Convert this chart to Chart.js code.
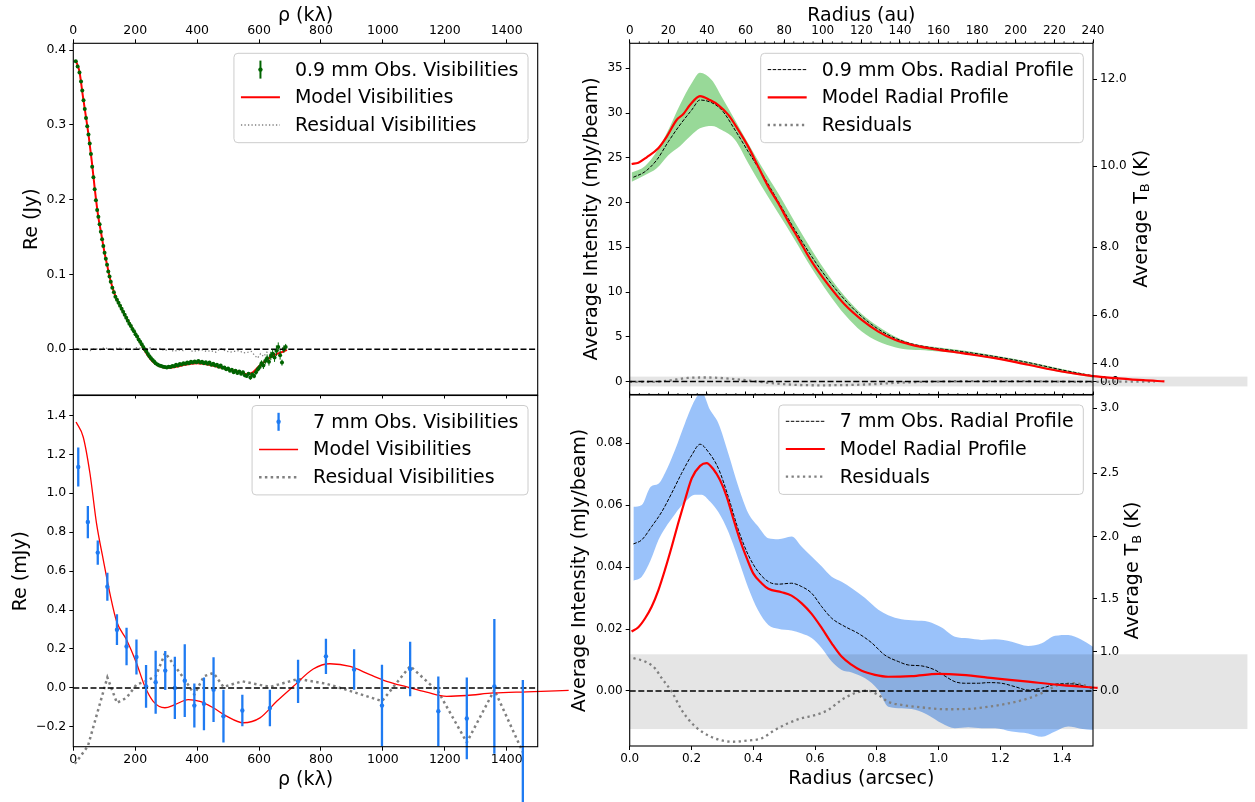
<!DOCTYPE html>
<html><head><meta charset="utf-8">
<script src="https://cdn.jsdelivr.net/npm/chart.js@4.4.1/dist/chart.umd.min.js"></script>
<style>
html,body{margin:0;padding:0;background:#fff;width:1255px;height:802px;overflow:hidden;}
canvas{position:absolute;left:0;top:0;}
</style></head><body>
<canvas id="tl" width="1255" height="802"></canvas>
<canvas id="bl" width="1255" height="802"></canvas>
<canvas id="tr" width="1255" height="802"></canvas>
<canvas id="br" width="1255" height="802"></canvas>
<script>
// ================= DATA =================
// --- Panel top-left: 0.9 mm visibilities (rho in k-lambda, Re in Jy)
const vis09X = [8,14,20,25,29,33,37,41,45,49,53,57,61,65,69,73,77,81,85,89,93,97,101,105,109,113,117,121,126,131,
136,141,146,151,156,161,166,171,176,181,186,191,196,201,206,211,216,221,226,231,236,241,246,251,256,261,266,272,278,284,
290,296,302,308,314,320,326,332,338,344,350,356,362,368,374,380,386,392,398,404,410,416,422,428,434,440,446,452,458,464,
470,476,482,488,494,500,506,512,518,524,530,536,542,548,554,560,566,572,578,584,590,596,602,608,614,620,626,632,638,644,
650,656,662,668,674,680,686];
const vis09Y = [0.385,0.378,0.370,0.358,0.346,0.333,0.321,0.309,0.298,0.287,
0.275,0.261,0.244,0.230,0.214,0.199,0.186,0.177,0.167,0.157,
0.147,0.138,0.129,0.121,0.113,0.104,0.097,0.090,0.082,0.076,
0.070,0.066,0.062,0.058,0.054,0.050,0.046,0.042,0.038,0.034,
0.031,0.027,0.024,0.020,0.017,0.013,0.010,0.0065,0.003,0.000,
-0.003,-0.0065,-0.0095,-0.012,-0.0145,-0.0165,-0.019,-0.0205,-0.022,-0.0225,
-0.0235,-0.024,-0.0245,-0.0235,-0.024,-0.0225,-0.023,-0.021,-0.022,-0.020,
-0.0205,-0.019,-0.0195,-0.018,-0.019,-0.017,-0.018,-0.0165,-0.0175,-0.016,
-0.018,-0.017,-0.019,-0.0175,-0.0195,-0.018,-0.021,-0.0195,-0.022,-0.021,
-0.0235,-0.022,-0.025,-0.0245,-0.027,-0.026,-0.029,-0.0275,-0.031,-0.029,
-0.032,-0.030,-0.033,-0.031,-0.035,-0.036,-0.033,-0.038,-0.034,-0.036,
-0.031,-0.027,-0.024,-0.019,-0.022,-0.016,-0.012,-0.017,-0.009,-0.006,
-0.011,-0.002,0.003,-0.008,-0.018,0.000,0.003];
const vis09Err = [0.0008,0.0008,0.0008,0.0008,0.0008,0.0008,0.0008,0.0008,0.0008,0.0008,
0.0008,0.0008,0.0008,0.0008,0.0008,0.0008,0.0008,0.0008,0.0008,0.0008,
0.0008,0.0008,0.0008,0.0008,0.0008,0.0008,0.0008,0.0008,0.0008,0.0008,
0.0008,0.0008,0.0008,0.0008,0.0008,0.0008,0.0008,0.0008,0.0008,0.0008,
0.0008,0.0008,0.0008,0.0008,0.0008,0.0008,0.0008,0.0008,0.0008,0.0008,
0.0008,0.0008,0.0008,0.0008,0.0008,0.0008,0.0008,0.0008,0.0008,0.0008,
0.0008,0.0008,0.0008,0.0008,0.0008,0.0008,0.0008,0.0008,0.0008,0.0008,
0.0008,0.0008,0.0008,0.0008,0.0008,0.0008,0.0008,0.0008,0.0008,0.0008,
0.0008,0.0008,0.0008,0.0008,0.0008,0.0008,0.0008,0.0008,0.0008,0.0008,
0.0010,0.0010,0.0012,0.0012,0.0015,0.0015,0.0015,0.0015,0.0018,0.0018,
0.0020,0.0020,0.0020,0.0022,0.0025,0.0025,0.0025,0.0030,0.0030,0.0030,
0.0035,0.0035,0.0040,0.0040,0.0045,0.0045,0.0050,0.0050,0.0055,0.0055,
0.0060,0.0070,0.0060,0.0060,0.0040,0.0050,0.0040];
const model09VisX = [8,20,30,40,50,60,70,80,90,100,110,120,130,140,150,160,170,180,190,200,210,220,230,240,250,260,270,280,
300,320,340,360,380,400,420,440,460,480,500,520,540,560,580,600,620,640,660,680,690];
const model09VisY = [0.386,0.371,0.341,0.313,0.284,0.250,0.212,0.179,0.155,0.131,0.111,0.092,0.078,0.067,0.059,0.051,0.043,0.036,0.028,0.021,
0.0135,0.006,-0.0015,-0.008,-0.0135,-0.018,-0.021,-0.023,-0.025,-0.0245,-0.023,-0.021,-0.0195,-0.019,-0.0195,-0.021,-0.023,-0.025,-0.027,-0.029,
-0.031,-0.0335,-0.031,-0.023,-0.016,-0.010,-0.006,-0.003,-0.001];
const resid09VisX = [10,25,40,55,70,85,100,115,130,145,160,175,190,205,220,235,250,265,280,295,310,325,340,355,370,385,400,415,430,445,
460,475,490,505,520,535,550,565,575,585,595,605,615,625,635,645,655,665,675,685];
const resid09VisY = [0.001,-0.001,0.000,-0.002,0.001,-0.001,0.002,0.000,-0.001,0.002,0.000,0.001,-0.001,0.002,0.001,0.000,0.002,-0.001,0.001,-0.002,
0.000,-0.003,-0.001,-0.002,0.001,-0.003,-0.002,-0.001,-0.003,-0.002,-0.004,0.001,-0.002,-0.004,-0.003,-0.002,-0.005,-0.004,-0.003,-0.008,
-0.012,-0.006,-0.010,-0.004,-0.007,-0.013,-0.005,-0.002,0.002,0.000];

// --- Panel bottom-left: 7 mm visibilities (rho in k-lambda, Re in mJy)
const vis7X = [16,47,79,110,141,172,204,235,266,297,328,360,391,422,453,485,546,635,726,816,907,997,1088,1179,1271,1360,1452];
const vis7Y = [1.135,0.852,0.695,0.52,0.299,0.213,0.159,0.008,0.029,0.089,0.0,0.037,-0.091,-0.082,-0.009,-0.145,-0.116,-0.103,0.034,0.162,
0.094,-0.091,0.097,-0.12,-0.157,0.008,-0.35];
const vis7Err = [0.100,0.083,0.062,0.072,0.079,0.096,0.09,0.11,0.162,0.1,0.16,0.187,0.113,0.135,0.166,0.136,0.081,0.094,0.111,0.091,
0.104,0.21,0.14,0.178,0.21,0.346,0.39];
const model7VisX = [9,32,54,75,97,118,140,172,204,231,258,296,328,371,409,452,495,549,603,657,711,775,829,894,958,1012,1077,1141,1206,1270,1357,1464,1600];
const model7VisY = [1.366,1.289,1.10,0.845,0.657,0.487,0.341,0.247,0.128,0.008,-0.069,-0.102,-0.086,-0.06,-0.069,-0.102,-0.145,-0.179,-0.154,-0.069,
0.008,0.097,0.124,0.11,0.068,0.034,0.005,-0.022,-0.043,-0.039,-0.026,-0.02,-0.013];
const resid7VisX = [5,47,79,110,141,172,204,235,266,297,328,360,391,422,453,485,546,635,726,816,907,997,1088,1179,1271,1360,1452];
const resid7VisY = [-0.39,-0.30,-0.12,0.054,-0.077,-0.051,0.017,0.035,0.06,0.18,0.112,0.043,-0.034,0.06,0.077,0.005,0.034,0.005,0.046,0.022,
-0.022,-0.068,0.112,-0.02,-0.28,-0.01,-0.33];

// --- Panel top-right: 0.9 mm radial profile (radius in au, intensity in mJy/beam)
const prof09X = [1.9,7.9,14,20,26,32.1,36.4,42.5,47.7,54.6,61.4,68.4,77,85.6,94.3,102.9,111.5,120.2,128.8,137.4,146.1,154.7,172,189.2,206.5,223.8,240];
const prof09Y = [22.83,23.45,24.76,26.8,28.67,30.34,31.46,31.16,30.34,28.1,25.69,23.27,20.1,16.94,13.96,11.36,9.12,7.26,5.85,4.85,4.21,3.84,3.35,2.79,2.12,1.30,0.63];
const model09ProfX = [1,4.5,8.8,14.8,19.2,24.3,27.8,31.2,36.4,41.6,45.9,51.1,56.3,61.4,66.6,71.8,77,82.2,87.3,94.3,102.9,111.5,120.2,128.8,137.4,146.1,154.7,172,189.2,206.5,223.8,240,253,266,277];
const model09ProfY = [24.31,24.46,25.06,26.07,27.37,29.23,29.9,30.9,31.9,31.46,30.9,29.8,28.1,26.25,24.0,21.78,19.92,17.87,16.0,13.4,10.8,8.57,6.89,5.58,4.66,4.10,3.73,3.17,2.61,1.87,1.12,0.6,0.36,0.15,0.02];
const band09X = [1,8,14,20,26,32,36.4,42.5,47.7,54.6,61.4,68.4,77,85.6,94.3,102.9,111.5,120.2,128.8,137.4,146,155,172,189,206,224,240];
const band09Hi = [23.35,24.1,25.7,28.1,30.9,33.3,34.5,33.7,31.8,29.2,26.6,24.0,21.0,17.8,14.7,11.9,9.5,7.56,6.14,5.03,4.29,3.95,3.5,2.9,2.25,1.4,0.7];
const band09Lo = [22.34,23.08,23.83,25.3,26.3,27.55,28.3,28.56,28.1,27.0,24.4,21.8,18.8,15.8,12.66,9.87,7.45,5.58,4.47,3.84,3.54,3.45,3.1,2.55,1.85,1.0,0.45];
const resid09ProfX = [0,10,20,30,40,50,60,70,80,90,100,110,120,130,140,150,160,180,200,220,240,255,272];
const resid09ProfY = [-0.05,-0.05,0.1,0.4,0.45,0.35,0.15,-0.1,-0.3,-0.4,-0.42,-0.4,-0.35,-0.25,-0.12,-0.05,0.0,0.05,0.05,0.0,-0.05,0.0,0.0];
const rms09Band = [-0.55, 0.55];
const rms09BandX = [0, 320];
const tb09TickPos = [33.8, 24.08, 15.0, 7.41, 1.98, 0];
const tb09TickLabels = ['12.0','10.0','8.0','6.0','4.0','0.0'];

// --- Panel bottom-right: 7 mm radial profile (radius in arcsec, intensity in mJy/beam)
const prof7X = [0.012,0.039,0.071,0.104,0.136,0.168,0.201,0.228,0.254,0.287,0.319,0.352,0.384,0.416,0.449,0.481,0.524,0.557,0.589,0.622,
0.654,0.697,0.74,0.783,0.826,0.87,0.902,0.945,0.988,1.021,1.053,1.085,1.129,1.161,1.204,1.247,1.29,1.334,1.388,1.431,1.496];
const prof7Y = [0.0475,0.0488,0.0531,0.0579,0.0639,0.0703,0.0762,0.0797,0.0773,0.0719,0.0628,0.052,0.0439,0.0385,0.0353,0.0345,0.0348,0.0337,0.0316,0.0272,
0.0235,0.0208,0.0186,0.0156,0.0116,0.0095,0.0084,0.0081,0.0068,0.0048,0.003,0.0025,0.0025,0.0027,0.0025,0.0014,0.0003,0.0009,0.0023,0.0023,0.0009];
const model7ProfX = [0.006,0.028,0.05,0.071,0.093,0.114,0.136,0.157,0.179,0.201,0.228,0.249,0.271,0.292,0.314,0.335,0.357,0.379,0.4,0.427,
0.449,0.492,0.524,0.557,0.589,0.622,0.654,0.686,0.719,0.751,0.794,0.837,0.913,0.999,1.075,1.183,1.29,1.399,1.515];
const model7ProfY = [0.0192,0.0206,0.0235,0.0272,0.0326,0.0391,0.0466,0.0542,0.0617,0.0687,0.0727,0.0736,0.0716,0.0682,0.0628,0.0558,0.0488,0.0429,0.038,0.0348,
0.033,0.0319,0.0308,0.0283,0.0249,0.0203,0.0154,0.0111,0.0084,0.0065,0.0052,0.0046,0.0048,0.0055,0.0052,0.0041,0.003,0.0019,0.001];
const band7X = [0.012,0.039,0.068,0.093,0.114,0.147,0.179,0.211,0.233,0.26,0.287,0.319,0.352,0.384,0.416,0.449,0.481,0.524,0.557,0.589,
0.622,0.654,0.686,0.719,0.762,0.805,0.837,0.88,0.924,0.967,1.01,1.053,1.096,1.139,1.183,1.237,1.29,1.334,1.377,1.42,1.46,1.5];
const band7Hi = [0.0595,0.0601,0.066,0.0669,0.0703,0.0779,0.0865,0.094,0.0965,0.0908,0.0865,0.0768,0.066,0.0574,0.0531,0.0493,0.049,0.0499,0.0466,0.0434,
0.0402,0.0369,0.0353,0.0332,0.030,0.0262,0.0245,0.0232,0.0228,0.0224,0.0205,0.0175,0.017,0.0165,0.0167,0.0159,0.0145,0.0154,0.0178,0.0181,0.0167,0.0143];
const band7Lo = [0.0356,0.0369,0.0423,0.0488,0.0525,0.0572,0.061,0.0634,0.0634,0.0612,0.0578,0.0515,0.0425,0.0333,0.026,0.0213,0.0201,0.0195,0.0186,0.0171,
0.0138,0.0095,0.0068,0.006,0.0041,0.0003,-0.0051,-0.0056,-0.0061,-0.0078,-0.0104,-0.012,-0.0117,-0.012,-0.012,-0.0131,-0.0137,-0.0148,-0.0131,-0.0115,-0.0122,-0.0126];
const resid7ProfX = [0.012,0.05,0.082,0.104,0.136,0.168,0.201,0.233,0.276,0.33,0.384,0.427,0.47,0.513,0.557,0.6,0.643,0.686,0.729,0.772,
0.805,0.837,0.88,0.945,1.021,1.096,1.161,1.226,1.29,1.334,1.388,1.442,1.5];
const resid7ProfY = [0.0106,0.0095,0.0073,0.0041,-0.0002,-0.0061,-0.0104,-0.0131,-0.0153,-0.0164,-0.016,-0.0153,-0.0126,-0.0104,-0.0088,-0.0078,-0.0061,-0.0029,-0.0007,0.0001,
-0.0013,-0.0035,-0.0045,-0.0053,-0.0059,-0.0058,-0.0051,-0.004,-0.0024,-0.0007,0.0019,0.0025,0.0009];
const rms7Band = [-0.0123, 0.01185];
const rms7BandX = [0, 2.0];
const tb7TickPos = [0.0913, 0.0703, 0.0498, 0.0299, 0.0127, 0];
const tb7TickLabels = ['3.0','2.5','2.0','1.5','1.0','0.0'];

// zero reference lines
const zeroVisX = [0, 1500];
const zeroAuX = [0, 240];
const zeroArcX = [0, 1.5];
const zeroY = [0, 0];

// ================= HELPERS =================
const F = "'DejaVu Sans', 'Liberation Sans', sans-serif";
Chart.defaults.font.family = F;
Chart.defaults.color = '#000';
Chart.defaults.animation = false;

function pts(xs, ys) { return xs.map((x, i) => ({x: x, y: ys[i]})); }
function fitW(w) { return s => { s.width = w; }; }
function fitH(h) { return s => { s.height = h; }; }
function tickGrid(len) { return {display: true, drawOnChartArea: false, drawTicks: true, tickLength: len, tickColor: '#000', tickWidth: 1, color: '#000'}; }
function titleOpt(text) { return text ? {display: true, text: text, font: {size: 19, lineHeight: 1}, padding: 0, color: '#000'} : {display: false}; }

function xAxis(pos, lo, hi, step, o) {
  return {
    type: 'linear', axis: 'x', position: pos, bounds: 'data',
    afterDataLimits: s => { s.min = lo; s.max = hi; },
    afterBuildTicks: s => { s.ticks = s.ticks.filter(t => Math.abs(t.value / step - Math.round(t.value / step)) < 1e-6 && t.value >= lo - 1e-9 && t.value <= hi + 1e-9); },
    ticks: {stepSize: step, autoSkip: false, maxRotation: 0, minRotation: 0, display: !!o.labels, padding: o.pad, font: {size: o.fs}, callback: o.cb},
    grid: tickGrid(o.tl),
    border: {display: false},
    title: titleOpt(o.title),
    afterFit: fitH(o.h)
  };
}
function yAxis(pos, lo, hi, step, o) {
  const ax = {
    type: 'linear', axis: 'y', position: pos, min: lo, max: hi,
    ticks: {stepSize: step, includeBounds: false, autoSkip: false, padding: 3, font: {size: o.fs}, callback: o.cb},
    grid: tickGrid(4),
    border: {display: false},
    title: titleOpt(o.title),
    afterFit: fitW(o.w)
  };
  if (o.tickPos) {
    ax.afterBuildTicks = s => { s.ticks = o.tickPos.map(v => ({value: v})); };
    ax.ticks = {autoSkip: false, padding: 3, font: {size: o.fs}, callback: (v, i) => o.tickLabels[i]};
  }
  return ax;
}

const framePlugin = {
  id: 'frame',
  afterDraw(c) {
    const a = c.chartArea, ctx = c.ctx;
    ctx.save(); ctx.strokeStyle = '#000'; ctx.lineWidth = 1.1;
    ctx.strokeRect(a.left, a.top, a.right - a.left, a.bottom - a.top);
    ctx.restore();
  }
};
function bandPlugin(afterIndex, bx, by) {
  return {
    id: 'hband',
    afterDatasetDraw(c, args) {
      if (args.index !== afterIndex) return;
      const xs = c.scales.x, ys = c.scales.y, ctx = c.ctx;
      const x0 = xs.getPixelForValue(bx[0]), x1 = xs.getPixelForValue(bx[1]);
      const y0 = ys.getPixelForValue(by[1]), y1 = ys.getPixelForValue(by[0]);
      ctx.save(); ctx.fillStyle = 'rgba(0,0,0,0.1)'; ctx.fillRect(x0, y0, x1 - x0, y1 - y0); ctx.restore();
    }
  };
}
function errPlugin(dsIndex, errs, lw) {
  return {
    id: 'errbars',
    afterDatasetsDraw(c) {
      const ds = c.data.datasets[dsIndex], xs = c.scales.x, ys = c.scales.y, ctx = c.ctx;
      ctx.save(); ctx.strokeStyle = ds.pointBackgroundColor; ctx.lineWidth = lw; ctx.beginPath();
      ds.data.forEach((p, i) => {
        const x = xs.getPixelForValue(p.x);
        ctx.moveTo(x, ys.getPixelForValue(p.y + errs[i]));
        ctx.lineTo(x, ys.getPixelForValue(p.y - errs[i]));
      });
      ctx.stroke(); ctx.restore();
    }
  };
}
function minorPlugin(specs) {
  return {
    id: 'minor',
    afterDraw(c) {
      const ctx = c.ctx, a = c.chartArea;
      ctx.save(); ctx.strokeStyle = '#000'; ctx.lineWidth = 0.8; ctx.beginPath();
      specs.forEach(s => {
        const sc = c.scales[s.scale];
        for (let k = 0; s.from + k * s.step <= s.to + 1e-9; k++) {
          const x = sc.getPixelForValue(s.from + k * s.step);
          const y = s.side === 'top' ? a.top : a.bottom;
          ctx.moveTo(x, y); ctx.lineTo(x, s.side === 'top' ? y - s.len : y + s.len);
        }
      });
      ctx.stroke(); ctx.restore();
    }
  };
}
function tbTitlePlugin(xc) {
  return {
    id: 'tbTitle',
    afterDraw(c) {
      const ctx = c.ctx, a = c.chartArea, yc = (a.top + a.bottom) / 2;
      ctx.save(); ctx.translate(xc, yc); ctx.rotate(-Math.PI / 2);
      const big = '19px ' + F, small = '13px ' + F;
      ctx.font = big; const w1 = ctx.measureText('Average T').width, w3 = ctx.measureText(' (K)').width;
      ctx.font = small; const w2 = ctx.measureText('B').width;
      let x = -(w1 + w2 + w3) / 2;
      ctx.fillStyle = '#000'; ctx.textBaseline = 'middle'; ctx.textAlign = 'left';
      ctx.font = big; ctx.fillText('Average T', x, 0); x += w1;
      ctx.font = small; ctx.fillText('B', x, 4); x += w2;
      ctx.font = big; ctx.fillText(' (K)', x, 0);
      ctx.restore();
    }
  };
}
function legendPlugin(items) {
  return {
    id: 'mplLegend',
    afterDraw(c) {
      const ctx = c.ctx, a = c.chartArea;
      ctx.save();
      ctx.font = '19px ' + F;
      const texts = items.map(it => c.data.datasets[it.ds].label);
      const tw = Math.max.apply(null, texts.map(t => ctx.measureText(t).width));
      const w = 61 + tw + 9.5, h = 89.4;
      const x0 = a.right - 9.7 - w, y0 = a.top + 10, r = 4;
      ctx.beginPath();
      ctx.moveTo(x0 + r, y0); ctx.lineTo(x0 + w - r, y0); ctx.arcTo(x0 + w, y0, x0 + w, y0 + r, r);
      ctx.lineTo(x0 + w, y0 + h - r); ctx.arcTo(x0 + w, y0 + h, x0 + w - r, y0 + h, r);
      ctx.lineTo(x0 + r, y0 + h); ctx.arcTo(x0, y0 + h, x0, y0 + h - r, r);
      ctx.lineTo(x0, y0 + r); ctx.arcTo(x0, y0, x0 + r, y0, r); ctx.closePath();
      ctx.fillStyle = 'rgba(255,255,255,0.8)'; ctx.fill();
      ctx.strokeStyle = '#cccccc'; ctx.lineWidth = 1; ctx.stroke();
      items.forEach((it, i) => {
        const ds = c.data.datasets[it.ds], cy = y0 + 16.3 + i * 27.7;
        if (it.kind === 'err') {
          const col = ds.pointBackgroundColor;
          ctx.setLineDash([]); ctx.strokeStyle = col; ctx.lineWidth = it.lw;
          ctx.beginPath(); ctx.moveTo(x0 + 26.5, cy - 9); ctx.lineTo(x0 + 26.5, cy + 9); ctx.stroke();
          ctx.beginPath(); ctx.arc(x0 + 26.5, cy, 2.2, 0, Math.PI * 2); ctx.fillStyle = col; ctx.fill();
        } else {
          ctx.strokeStyle = ds.borderColor; ctx.lineWidth = ds.borderWidth; ctx.setLineDash(ds.borderDash || []);
          ctx.beginPath(); ctx.moveTo(x0 + 7, cy); ctx.lineTo(x0 + 46, cy); ctx.stroke(); ctx.setLineDash([]);
        }
        ctx.fillStyle = '#000'; ctx.textBaseline = 'middle'; ctx.textAlign = 'left';
        ctx.fillText(texts[i], x0 + 61, cy + 1);
      });
      ctx.restore();
    }
  };
}
const baseOpts = (padding) => ({
  responsive: false, maintainAspectRatio: false, animation: false, events: [],
  layout: {padding: padding},
  plugins: {legend: {display: false}, tooltip: {enabled: false}, title: {display: false}}
});
const intCb = v => String(Math.round(v));
const dash0 = [6, 2.6];

// ================= TOP-LEFT =================
{
  const o = baseOpts({left: 22.1, top: 6.8, right: 717.3, bottom: 403});
  o.scales = {
    x: xAxis('bottom', 0, 1500, 200, {labels: false, tl: 3.5, h: 4, fs: 12.5, pad: 2}),
    xt: xAxis('top', 0, 1500, 200, {labels: true, tl: 4, h: 36.5, fs: 12.5, pad: 1, cb: intCb, title: 'ρ (kλ)'}),
    y: yAxis('left', -0.0613, 0.409, 0.1, {w: 51.2, fs: 12.5, cb: v => v.toFixed(1), title: 'Re (Jy)'})
  };
  new Chart(document.getElementById('tl'), {
    type: 'line',
    data: {datasets: [
      {label: '0.9 mm Obs. Visibilities', data: pts(vis09X, vis09Y), showLine: false, pointRadius: 2, pointBorderWidth: 0,
       pointBackgroundColor: '#006400', borderColor: '#006400', xAxisID: 'x', yAxisID: 'y', order: 1},
      {label: 'Model Visibilities', data: pts(model09VisX, model09VisY), borderColor: '#ff0000', borderWidth: 2, pointRadius: 0,
       cubicInterpolationMode: 'monotone', xAxisID: 'x', yAxisID: 'y', order: 2},
      {label: 'Residual Visibilities', data: pts(resid09VisX, resid09VisY), borderColor: '#808080', borderWidth: 1.3, borderDash: [1.3, 2.2],
       pointRadius: 0, xAxisID: 'x', yAxisID: 'y', order: 3},
      {label: '', data: pts(zeroVisX, zeroY), borderColor: '#000', borderWidth: 1.5, borderDash: dash0, pointRadius: 0, xAxisID: 'x', yAxisID: 'y', order: 0}
    ]},
    options: o,
    plugins: [errPlugin(0, vis09Err, 1), framePlugin, legendPlugin([{ds: 0, kind: 'err', lw: 2}, {ds: 1}, {ds: 2}])]
  });
}

// ================= BOTTOM-LEFT =================
{
  const o = baseOpts({left: 11.5, top: 395.5, right: 717.3, bottom: 12.5});
  o.scales = {
    x: xAxis('bottom', 0, 1500, 200, {labels: true, tl: 4, h: 42.8, fs: 12.5, pad: 2, cb: intCb, title: 'ρ (kλ)'}),
    y: yAxis('left', -0.302, 1.502, 0.2, {w: 61.8, fs: 12.5, cb: v => (Math.abs(v) < 1e-9 ? '0.0' : v.toFixed(1)).replace('-', '\u2212'), title: 'Re (mJy)'})
  };
  new Chart(document.getElementById('bl'), {
    type: 'line',
    data: {datasets: [
      {label: '7 mm Obs. Visibilities', data: pts(vis7X, vis7Y), showLine: false, pointRadius: 2.2, pointBorderWidth: 0,
       pointBackgroundColor: '#1f7bf2', borderColor: '#1f7bf2', clip: false, xAxisID: 'x', yAxisID: 'y', order: 1},
      {label: 'Model Visibilities', data: pts(model7VisX, model7VisY), borderColor: '#ff0000', borderWidth: 1.3, pointRadius: 0,
       cubicInterpolationMode: 'monotone', clip: false, xAxisID: 'x', yAxisID: 'y', order: 2},
      {label: 'Residual Visibilities', data: pts(resid7VisX, resid7VisY), borderColor: '#808080', borderWidth: 2.5, borderDash: [2.5, 3.3],
       pointRadius: 0, clip: false, xAxisID: 'x', yAxisID: 'y', order: 3},
      {label: '', data: pts(zeroVisX, zeroY), borderColor: '#000', borderWidth: 1.5, borderDash: dash0, pointRadius: 0, xAxisID: 'x', yAxisID: 'y', order: 0}
    ]},
    options: o,
    plugins: [errPlugin(0, vis7Err, 2.3), framePlugin, legendPlugin([{ds: 0, kind: 'err', lw: 2.3}, {ds: 1}, {ds: 2}])]
  });
}

// ================= TOP-RIGHT =================
{
  const o = baseOpts({left: 583, top: 6.8, right: 102, bottom: 403.5});
  o.scales = {
    x: xAxis('top', 0, 240, 20, {labels: true, tl: 4, h: 36.5, fs: 12, pad: 1, cb: intCb, title: 'Radius (au)'}),
    xb: xAxis('bottom', 0, 1.5, 0.2, {labels: false, tl: 3.5, h: 4, fs: 12, pad: 2}),
    y: yAxis('left', -1.45, 37.8, 5, {w: 46.7, fs: 12, cb: intCb, title: 'Average Intensity (mJy/beam)'}),
    y2: yAxis('right', -1.45, 37.8, null, {w: 60, fs: 12, tickPos: tb09TickPos, tickLabels: tb09TickLabels})
  };
  new Chart(document.getElementById('tr'), {
    type: 'line',
    data: {datasets: [
      {label: '', data: pts(band09X, band09Lo), borderWidth: 0, borderColor: 'rgba(0,0,0,0)', pointRadius: 0, fill: false,
       cubicInterpolationMode: 'monotone', xAxisID: 'x', yAxisID: 'y', order: 10},
      {label: '', data: pts(band09X, band09Hi), borderWidth: 0, borderColor: 'rgba(0,0,0,0)', pointRadius: 0, fill: 0,
       backgroundColor: 'rgba(50,180,50,0.5)', cubicInterpolationMode: 'monotone', xAxisID: 'x', yAxisID: 'y', order: 9},
      {label: '0.9 mm Obs. Radial Profile', data: pts(prof09X, prof09Y), borderColor: '#000', borderWidth: 1, borderDash: [3.5, 1.5],
       pointRadius: 0, cubicInterpolationMode: 'monotone', xAxisID: 'x', yAxisID: 'y', order: 3},
      {label: 'Model Radial Profile', data: pts(model09ProfX, model09ProfY), borderColor: '#ff0000', borderWidth: 2.2, pointRadius: 0,
       cubicInterpolationMode: 'monotone', clip: false, xAxisID: 'x', yAxisID: 'y', order: 2},
      {label: 'Residuals', data: pts(resid09ProfX, resid09ProfY), borderColor: '#808080', borderWidth: 2.3, borderDash: [2.3, 3.4],
       pointRadius: 0, cubicInterpolationMode: 'monotone', clip: false, xAxisID: 'x', yAxisID: 'y', order: 4},
      {label: '', data: pts(zeroAuX, zeroY), borderColor: '#000', borderWidth: 1.5, borderDash: dash0, pointRadius: 0, xAxisID: 'x', yAxisID: 'y', order: 1}
    ]},
    options: o,
    plugins: [bandPlugin(1, rms09BandX, rms09Band), framePlugin,
      minorPlugin([{scale: 'x', from: 0, to: 240, step: 5, len: 2, side: 'top'}]),
      tbTitlePlugin(1141.7), legendPlugin([{ds: 2}, {ds: 3}, {ds: 4}])]
  });
}

// ================= BOTTOM-RIGHT =================
{
  const o = baseOpts({left: 571, top: 391, right: 102, bottom: 13.5});
  o.scales = {
    x: xAxis('bottom', 0, 1.5, 0.2, {labels: true, tl: 4, h: 42.5, fs: 12, pad: 2, cb: v => v.toFixed(1), title: 'Radius (arcsec)'}),
    xt: xAxis('top', 0, 240, 20, {labels: false, tl: 3.5, h: 4, fs: 12, pad: 2}),
    y: yAxis('left', -0.01777, 0.0956, 0.02, {w: 58.7, fs: 12, cb: v => v.toFixed(2), title: 'Average Intensity (mJy/beam)'}),
    y2: yAxis('right', -0.01777, 0.0956, null, {w: 60, fs: 12, tickPos: tb7TickPos, tickLabels: tb7TickLabels})
  };
  new Chart(document.getElementById('br'), {
    type: 'line',
    data: {datasets: [
      {label: '', data: pts(band7X, band7Lo), borderWidth: 0, borderColor: 'rgba(0,0,0,0)', pointRadius: 0, fill: false,
       cubicInterpolationMode: 'monotone', xAxisID: 'x', yAxisID: 'y', order: 10},
      {label: '', data: pts(band7X, band7Hi), borderWidth: 0, borderColor: 'rgba(0,0,0,0)', pointRadius: 0, fill: 0,
       backgroundColor: 'rgba(30,120,245,0.45)', cubicInterpolationMode: 'monotone', xAxisID: 'x', yAxisID: 'y', order: 9},
      {label: '7 mm Obs. Radial Profile', data: pts(prof7X, prof7Y), borderColor: '#000', borderWidth: 1, borderDash: [3.5, 1.5],
       pointRadius: 0, cubicInterpolationMode: 'monotone', xAxisID: 'x', yAxisID: 'y', order: 3},
      {label: 'Model Radial Profile', data: pts(model7ProfX, model7ProfY), borderColor: '#ff0000', borderWidth: 2.2, pointRadius: 0,
       cubicInterpolationMode: 'monotone', clip: false, xAxisID: 'x', yAxisID: 'y', order: 2},
      {label: 'Residuals', data: pts(resid7ProfX, resid7ProfY), borderColor: '#808080', borderWidth: 2.3, borderDash: [2.3, 3.4],
       pointRadius: 0, cubicInterpolationMode: 'monotone', xAxisID: 'x', yAxisID: 'y', order: 4},
      {label: '', data: pts(zeroArcX, zeroY), borderColor: '#000', borderWidth: 1.5, borderDash: dash0, pointRadius: 0, xAxisID: 'x', yAxisID: 'y', order: 1}
    ]},
    options: o,
    plugins: [bandPlugin(1, rms7BandX, rms7Band), framePlugin,
      minorPlugin([{scale: 'xt', from: 0, to: 240, step: 5, len: 2, side: 'top'}]),
      tbTitlePlugin(1133.3), legendPlugin([{ds: 2}, {ds: 3}, {ds: 4}])]
  });
}
</script>
</body></html>
